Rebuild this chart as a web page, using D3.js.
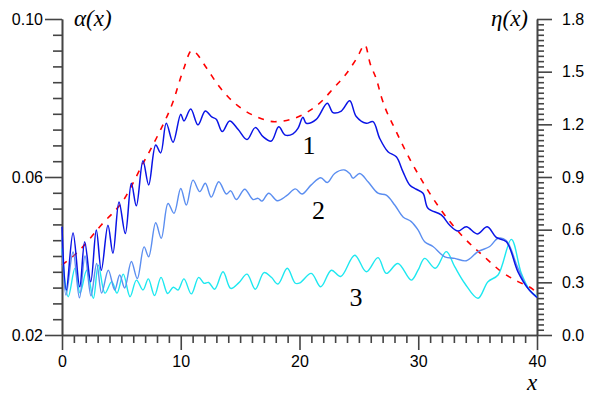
<!DOCTYPE html>
<html><head><meta charset="utf-8">
<script src="https://cdn.jsdelivr.net/npm/d3@7"></script>
<style>body{margin:0;background:#fff}svg{display:block}</style>
</head><body>
<svg id="c" width="590" height="396"></svg>
<script>
// ---- data ----
const xTicks = [0, 10, 20, 30, 40];
const alphaTicks = [0.02, 0.06, 0.10];
const etaTicks = [0.0, 0.3, 0.6, 0.9, 1.2, 1.5, 1.8];

const curve1X = [0,0.36,0.93,1.49,1.91,2.42,2.89,3.31,3.87,4.29,4.80,5.33,5.84,6.26,6.82,7.30,7.89,8.31,8.78,9.35,10.0,10.27,10.84,11.45,12.07,12.61,12.99,13.50,14.12,14.82,15.58,16.28,16.93,17.63,18.25,18.80,19.45,19.87,20.29,20.57,21.41,22.34,22.82,23.52,24.23,24.78,25.62,26.19,26.75,27.45,28.15,28.72,29.28,29.84,30.40,30.82,31.94,32.65,33.35,34.05,34.97,35.81,36.57,37.42,38.40,39.24,40];
const curve1A = [0.0474,0.0314,0.0458,0.0322,0.0436,0.0335,0.0466,0.0364,0.0478,0.0407,0.0537,0.0457,0.0584,0.0527,0.0641,0.0580,0.0681,0.0661,0.0736,0.0688,0.0759,0.0742,0.0772,0.0732,0.0767,0.0752,0.0746,0.0715,0.0742,0.0721,0.0695,0.0725,0.0702,0.0691,0.0727,0.0706,0.0709,0.0723,0.0751,0.0736,0.0746,0.0787,0.0763,0.0767,0.0793,0.0753,0.0736,0.0740,0.0698,0.0664,0.0651,0.0613,0.0580,0.0569,0.0559,0.0521,0.0504,0.0478,0.0463,0.0474,0.0456,0.0474,0.0447,0.0436,0.0360,0.0318,0.0295];

const curve2X = [0,0.34,0.93,1.47,1.94,2.44,2.92,3.34,3.90,4.44,4.86,5.28,5.84,6.34,6.91,7.30,7.89,8.36,8.93,9.43,10.0,10.47,11.03,11.60,12.07,12.57,13.20,13.84,14.21,14.68,15.39,16.08,16.51,16.84,17.41,18.13,18.89,19.65,20.21,20.99,21.79,22.34,22.96,23.75,24.23,24.51,25.07,25.77,26.61,27.31,28.02,28.72,29.41,29.98,30.54,31.24,32.23,33.07,34.05,35.03,36.02,36.72,37.41,38.40,39.24,40];
const curve2A = [0.0445,0.0301,0.0410,0.0294,0.0400,0.0299,0.0381,0.0306,0.0364,0.0314,0.0352,0.0319,0.0386,0.0343,0.0423,0.0398,0.0484,0.0445,0.0533,0.0508,0.0571,0.0529,0.0592,0.0563,0.0584,0.0549,0.0588,0.0557,0.0565,0.0543,0.0569,0.0543,0.0546,0.0539,0.0559,0.0540,0.0552,0.0570,0.0557,0.0580,0.0598,0.0586,0.0609,0.0618,0.0609,0.0597,0.0609,0.0588,0.0559,0.0554,0.0529,0.0499,0.0487,0.0466,0.0436,0.0424,0.0398,0.0394,0.0388,0.0411,0.0424,0.0445,0.0439,0.0369,0.0318,0.0295];

const curve3X = [0,0.53,1.09,1.52,2.08,2.64,3.06,3.62,4.19,4.63,5.16,5.73,6.27,6.82,7.27,7.79,8.34,8.90,9.37,9.77,10.27,10.89,11.51,11.96,12.35,12.86,13.56,14.21,14.88,15.58,16.28,17.01,17.63,18.19,18.97,19.65,20.04,20.99,21.79,22.68,23.47,24.65,25.63,26.61,27.31,28.29,29.41,29.98,30.54,31.44,32.36,33.07,33.91,35.03,35.87,36.72,37.84,38.68,39.38,40];
const curve3A = [0.0419,0.0297,0.0369,0.0306,0.0364,0.0293,0.0377,0.0306,0.0335,0.0306,0.0354,0.0297,0.0339,0.0314,0.0342,0.0300,0.0346,0.0305,0.0321,0.0314,0.0342,0.0304,0.0346,0.0331,0.0333,0.0316,0.0360,0.0318,0.0332,0.0354,0.0316,0.0358,0.0346,0.0329,0.0369,0.0331,0.0332,0.0356,0.0322,0.0364,0.0348,0.0402,0.0360,0.0396,0.0356,0.0381,0.0339,0.0364,0.0394,0.0369,0.0411,0.0373,0.0331,0.0293,0.0335,0.0352,0.0442,0.0356,0.0314,0.0297];

const etaX = [0,1.35,3.31,5.28,6.68,8.08,9.35,10.21,10.92,12.19,13.03,13.98,15.10,16.51,17.91,19.31,20.72,21.98,22.85,23.97,24.82,25.52,25.94,26.50,26.89,28.15,29.41,30.23,31.81,33.63,35.87,36.99,38.40,39.66,40];
const etaV = [0.399,0.474,0.627,0.779,0.959,1.139,1.329,1.509,1.620,1.519,1.434,1.357,1.291,1.240,1.215,1.229,1.272,1.339,1.405,1.491,1.576,1.652,1.548,1.452,1.357,1.158,0.987,0.889,0.722,0.570,0.427,0.361,0.304,0.260,0.239];

// ---- chart ----
const svg = d3.select("#c");
const x = d3.scaleLinear().domain([0, 40]).range([62, 537]);
const yL = d3.scaleLinear().domain([0.02, 0.10]).range([335, 19]);
const yR = d3.scaleLinear().domain([0, 1.8]).range([335, 19]);
const axisCol = "#444";
const fontSans = "Arial, 'Liberation Sans', sans-serif";
const fontSerif = "'Times New Roman', 'Liberation Serif', serif";

function styleAxis(g) {
  g.selectAll("path.domain").attr("stroke", axisCol).attr("stroke-width", 1.6);
  g.selectAll(".tick line").attr("stroke", axisCol).attr("stroke-width", 1.6);
  g.selectAll(".tick text").attr("fill", "#000").style("font-family", fontSans).style("font-size", "16px");
}

// minor ticks
const xMinor = d3.range(0, 41, 1).filter(v => v % 10 !== 0);
const aMinor = d3.range(0, 21).map(i => +(0.02 + i * 0.004).toFixed(4)).filter(v => !alphaTicks.some(t => Math.abs(t - v) < 1e-6));
const eMinor = d3.range(0, 61).map(i => +(i * 0.03).toFixed(3)).filter(v => !etaTicks.some(t => Math.abs(t - v) < 1e-6));

const gxm = svg.append("g").attr("transform", "translate(0,335)")
  .call(d3.axisBottom(x).tickValues(xMinor).tickSize(8).tickSizeOuter(0).tickFormat(""));
styleAxis(gxm);
const gx = svg.append("g").attr("transform", "translate(0,335)")
  .call(d3.axisBottom(x).tickValues(xTicks).tickSize(15).tickSizeOuter(0).tickPadding(6).tickFormat(d3.format("d")));
styleAxis(gx);

const glm = svg.append("g").attr("transform", "translate(62,0)")
  .call(d3.axisLeft(yL).tickValues(aMinor).tickSize(9).tickSizeOuter(0).tickFormat(""));
styleAxis(glm);
const gl = svg.append("g").attr("transform", "translate(62,0)")
  .call(d3.axisLeft(yL).tickValues(alphaTicks).tickSize(17).tickSizeOuter(0).tickPadding(2).tickFormat(d3.format(".2f")));
styleAxis(gl);

const grm = svg.append("g").attr("transform", "translate(537,0)")
  .call(d3.axisRight(yR).tickValues(eMinor).tickSize(7).tickSizeOuter(0).tickFormat(""));
styleAxis(grm);
const gr = svg.append("g").attr("transform", "translate(537,0)")
  .call(d3.axisRight(yR).tickValues(etaTicks).tickSize(15).tickSizeOuter(0).tickPadding(10).tickFormat(d3.format(".1f")));
styleAxis(gr);

// curves
const mk = (xs, ys) => xs.map((v, i) => [v, ys[i]]);
const lineA = d3.line().x(d => x(d[0])).y(d => yL(d[1])).curve(d3.curveCatmullRom.alpha(0.5));
const lineE = d3.line().x(d => x(d[0])).y(d => yR(d[1])).curve(d3.curveMonotoneX);

svg.append("path").datum(mk(etaX, etaV)).attr("d", lineE)
  .attr("fill", "none").attr("stroke", "#ff0000").attr("stroke-width", 1.6).attr("stroke-dasharray", "6,7");
svg.append("path").datum(mk(curve3X, curve3A)).attr("d", lineA)
  .attr("fill", "none").attr("stroke", "#1ee8f0").attr("stroke-width", 1.4);
svg.append("path").datum(mk(curve2X, curve2A)).attr("d", lineA)
  .attr("fill", "none").attr("stroke", "#5b8ef0").attr("stroke-width", 1.4);
svg.append("path").datum(mk(curve1X, curve1A)).attr("d", lineA)
  .attr("fill", "none").attr("stroke", "#0a14e6").attr("stroke-width", 1.5);

// labels
const italic = (t, px, py, anchor) => svg.append("text").attr("x", px).attr("y", py)
  .attr("text-anchor", anchor).style("font-family", fontSerif).style("font-style", "italic")
  .style("font-size", "23px").attr("fill", "#000").text(t);
italic("α(x)", 74, 26, "start");
italic("η(x)", 528, 26, "end");
italic("x", 532, 390, "middle");

const num = (t, px, py) => svg.append("text").attr("x", px).attr("y", py).attr("text-anchor", "middle")
  .style("font-family", fontSerif).style("font-size", "26px").attr("fill", "#000").text(t);
num("1", 309, 154);
num("2", 318.5, 219);
num("3", 356, 306);
</script>
</body></html>
